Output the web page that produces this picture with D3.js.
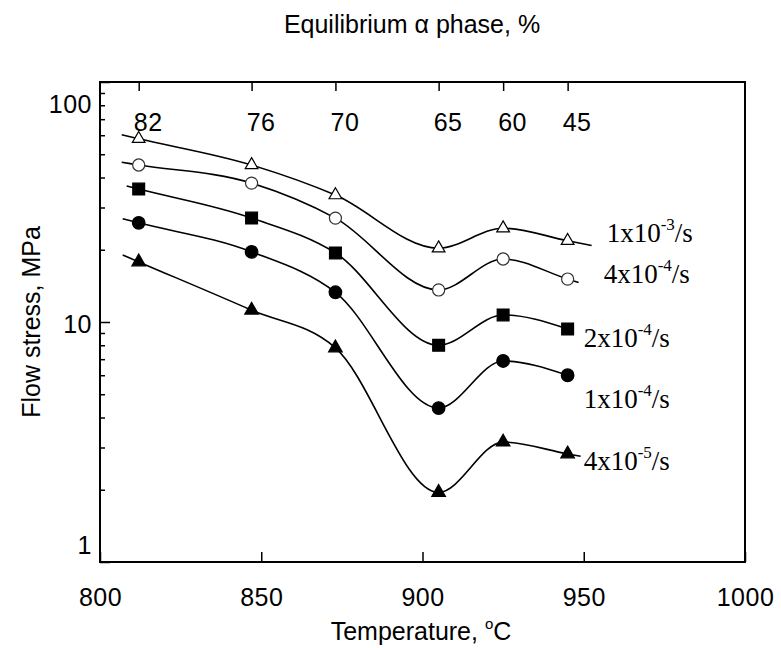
<!DOCTYPE html>
<html>
<head>
<meta charset="utf-8">
<script src="https://cdn.jsdelivr.net/npm/d3@7"></script>
<style>
  body { margin: 0; background: #fff; }
  svg { display: block; }
</style>
</head>
<body>
<svg id="chart" width="781" height="648"></svg>
<script>
// Test temperatures (°C) and the equilibrium alpha-phase fraction at each
const temps = [812, 847, 873, 905, 925, 945];
const alphaPct = ["82", "76", "70", "65", "60", "45"];

// Flow stress (MPa) for each strain rate
const rate1e3 = [58.0, 45.1, 33.8, 20.3, 24.6, 21.8];
const rate4e4 = [45.1, 37.9, 27.1, 13.6, 18.3, 15.1];
const rate2e4 = [35.8, 27.1, 19.4, 8.0, 10.7, 9.35];
const rate1e4 = [25.9, 19.6, 13.3, 4.38, 6.88, 6.0];
const rate4e5 = [17.8, 11.2, 7.8, 1.95, 3.16, 2.82];

// Strain-rate labels: mantissa x 10^exponent /s
const rateMantissa = ["1", "4", "2", "1", "4"];
const rateExponent = ["-3", "-4", "-4", "-4", "-5"];

// Axis ticks
const xTicks = [800, 850, 900, 950, 1000];
const yMajor = [1, 10, 100];
const yMinor = [2, 3, 4, 5, 6, 7, 8, 9, 20, 30, 40, 50, 60, 70, 80, 90];

const series = [rate1e3, rate4e4, rate2e4, rate1e4, rate4e5];

// Drawing styles per series
const styles = [
  { symbol: d3.symbolTriangle, size: 70, fill: "#fff", stroke: "#000", extL: 17, extR: 24, lx: 39, ly: 1 },
  { symbol: d3.symbolCircle,   size: 115, fill: "#fff", stroke: "#333", extL: 17, extR: 11, lx: 36, ly: 4 },
  { symbol: d3.symbolSquare,   size: 140, fill: "#000", stroke: "#000", extL: 12, extR: 0, lx: 16, ly: 18 },
  { symbol: d3.symbolCircle,   size: 125, fill: "#000", stroke: "#000", extL: 16, extR: 0, lx: 16, ly: 33 },
  { symbol: d3.symbolTriangle, size: 80, fill: "#000", stroke: "#000", extL: 16, extR: 13, lx: 16, ly: 16 }
];

const svg = d3.select("#chart");
const plotL = 100, plotR = 745, plotT = 82, plotB = 562;

const x = d3.scaleLinear().domain([800, 1000]).range([plotL, plotR]);
const y = d3.scaleLog().domain([1, 100]).range([plotB, plotT]);

const sans = "'Liberation Sans', Arial, Helvetica, sans-serif";
const serif = "'Liberation Serif', 'Times New Roman', serif";

// Plot frame
svg.append("rect")
  .attr("x", plotL).attr("y", plotT)
  .attr("width", plotR - plotL).attr("height", plotB - plotT)
  .attr("fill", "none").attr("stroke", "#000").attr("stroke-width", 2);

// Bottom axis: ticks point inward
const gx = svg.append("g")
  .attr("transform", `translate(0,${plotB})`)
  .call(d3.axisBottom(x).tickValues(xTicks).tickFormat(d3.format("d"))
    .tickSizeInner(-10).tickSizeOuter(0).tickPadding(26));
gx.select(".domain").remove();
gx.selectAll("line").attr("stroke-width", 1.5);
gx.selectAll("text").attr("font-family", sans).attr("font-size", 25)
  .attr("letter-spacing", "0.5px").attr("fill", "#000");

// Left axis: major ticks with labels
const gyMaj = svg.append("g")
  .attr("transform", `translate(${plotL},0)`)
  .call(d3.axisLeft(y).tickValues(yMajor).tickFormat(d3.format("d"))
    .tickSizeInner(-10).tickSizeOuter(0).tickPadding(8));
gyMaj.select(".domain").remove();
gyMaj.selectAll("line").attr("stroke-width", 1.5);
gyMaj.selectAll("text").attr("font-family", sans).attr("font-size", 25)
  .attr("letter-spacing", "0.5px").attr("fill", "#000")
  .attr("y", d => Math.max(plotT + 22, Math.min(plotB - 17, y(d) + 2)) - y(d));

// Left axis: minor ticks
const gyMin = svg.append("g")
  .attr("transform", `translate(${plotL},0)`)
  .call(d3.axisLeft(y).tickValues(yMinor).tickFormat("")
    .tickSizeInner(-5).tickSizeOuter(0));
gyMin.select(".domain").remove();
gyMin.selectAll("line").attr("stroke-width", 1.5);

// Top axis: equilibrium alpha-phase fraction at each test temperature
const gTop = svg.append("g")
  .attr("transform", `translate(0,${plotT})`)
  .call(d3.axisTop(x).tickValues(temps).tickFormat((d, i) => alphaPct[i])
    .tickSizeInner(-9).tickSizeOuter(0).tickPadding(-49));
gTop.select(".domain").remove();
gTop.selectAll("line").attr("stroke-width", 1.5);
gTop.selectAll("text").attr("font-family", sans).attr("font-size", 25)
  .attr("letter-spacing", "0.5px").attr("fill", "#000").attr("dx", 9);

// Curves
const line = d3.line().curve(d3.curveMonotoneX);

series.forEach((vals, s) => {
  const st = styles[s];
  const pts = temps.map((t, i) => [x(t), y(vals[i])]);
  const n = pts.length;
  const path = pts.slice();
  // short continuation past the first and last points along the end slope
  const sl = (pts[1][1] - pts[0][1]) / (pts[1][0] - pts[0][0]);
  if (st.extL > 0) path.unshift([pts[0][0] - st.extL, pts[0][1] - sl * st.extL]);
  const sr = (pts[n - 1][1] - pts[n - 2][1]) / (pts[n - 1][0] - pts[n - 2][0]);
  if (st.extR > 0) path.push([pts[n - 1][0] + st.extR, pts[n - 1][1] + sr * st.extR]);

  svg.append("path")
    .attr("d", line(path))
    .attr("fill", "none").attr("stroke", "#000").attr("stroke-width", 1.6);

  svg.append("g").selectAll("path")
    .data(vals)
    .join("path")
    .attr("transform", (v, i) => `translate(${x(temps[i])},${y(v)})`)
    .attr("d", d3.symbol().type(st.symbol).size(st.size))
    .attr("fill", st.fill).attr("stroke", st.stroke).attr("stroke-width", 1.2);

  // Strain-rate label next to the last point
  const lbl = svg.append("text")
    .attr("x", x(temps[n - 1]) + st.lx)
    .attr("y", y(vals[n - 1]) + st.ly)
    .attr("font-family", serif).attr("font-size", 27).attr("fill", "#000");
  lbl.append("tspan").text(rateMantissa[s] + "x10");
  lbl.append("tspan").attr("font-size", 17).attr("dy", -12).text(rateExponent[s]);
  lbl.append("tspan").attr("dy", 12).text("/s");
});

// Axis titles
svg.append("text")
  .attr("x", 412).attr("y", 33)
  .attr("text-anchor", "middle")
  .attr("font-family", sans).attr("font-size", 25).attr("fill", "#000")
  .text("Equilibrium α phase, %");

const xt = svg.append("text")
  .attr("x", 421).attr("y", 640)
  .attr("text-anchor", "middle")
  .attr("font-family", sans).attr("font-size", 25).attr("fill", "#000");
xt.append("tspan").text("Temperature, ");
xt.append("tspan").attr("font-size", 15).attr("dy", -11).text("o");
xt.append("tspan").attr("dy", 11).text("C");

svg.append("text")
  .attr("transform", "translate(40,322) rotate(-90)")
  .attr("text-anchor", "middle")
  .attr("font-family", sans).attr("font-size", 25).attr("fill", "#000")
  .text("Flow stress, MPa");
</script>
</body>
</html>
